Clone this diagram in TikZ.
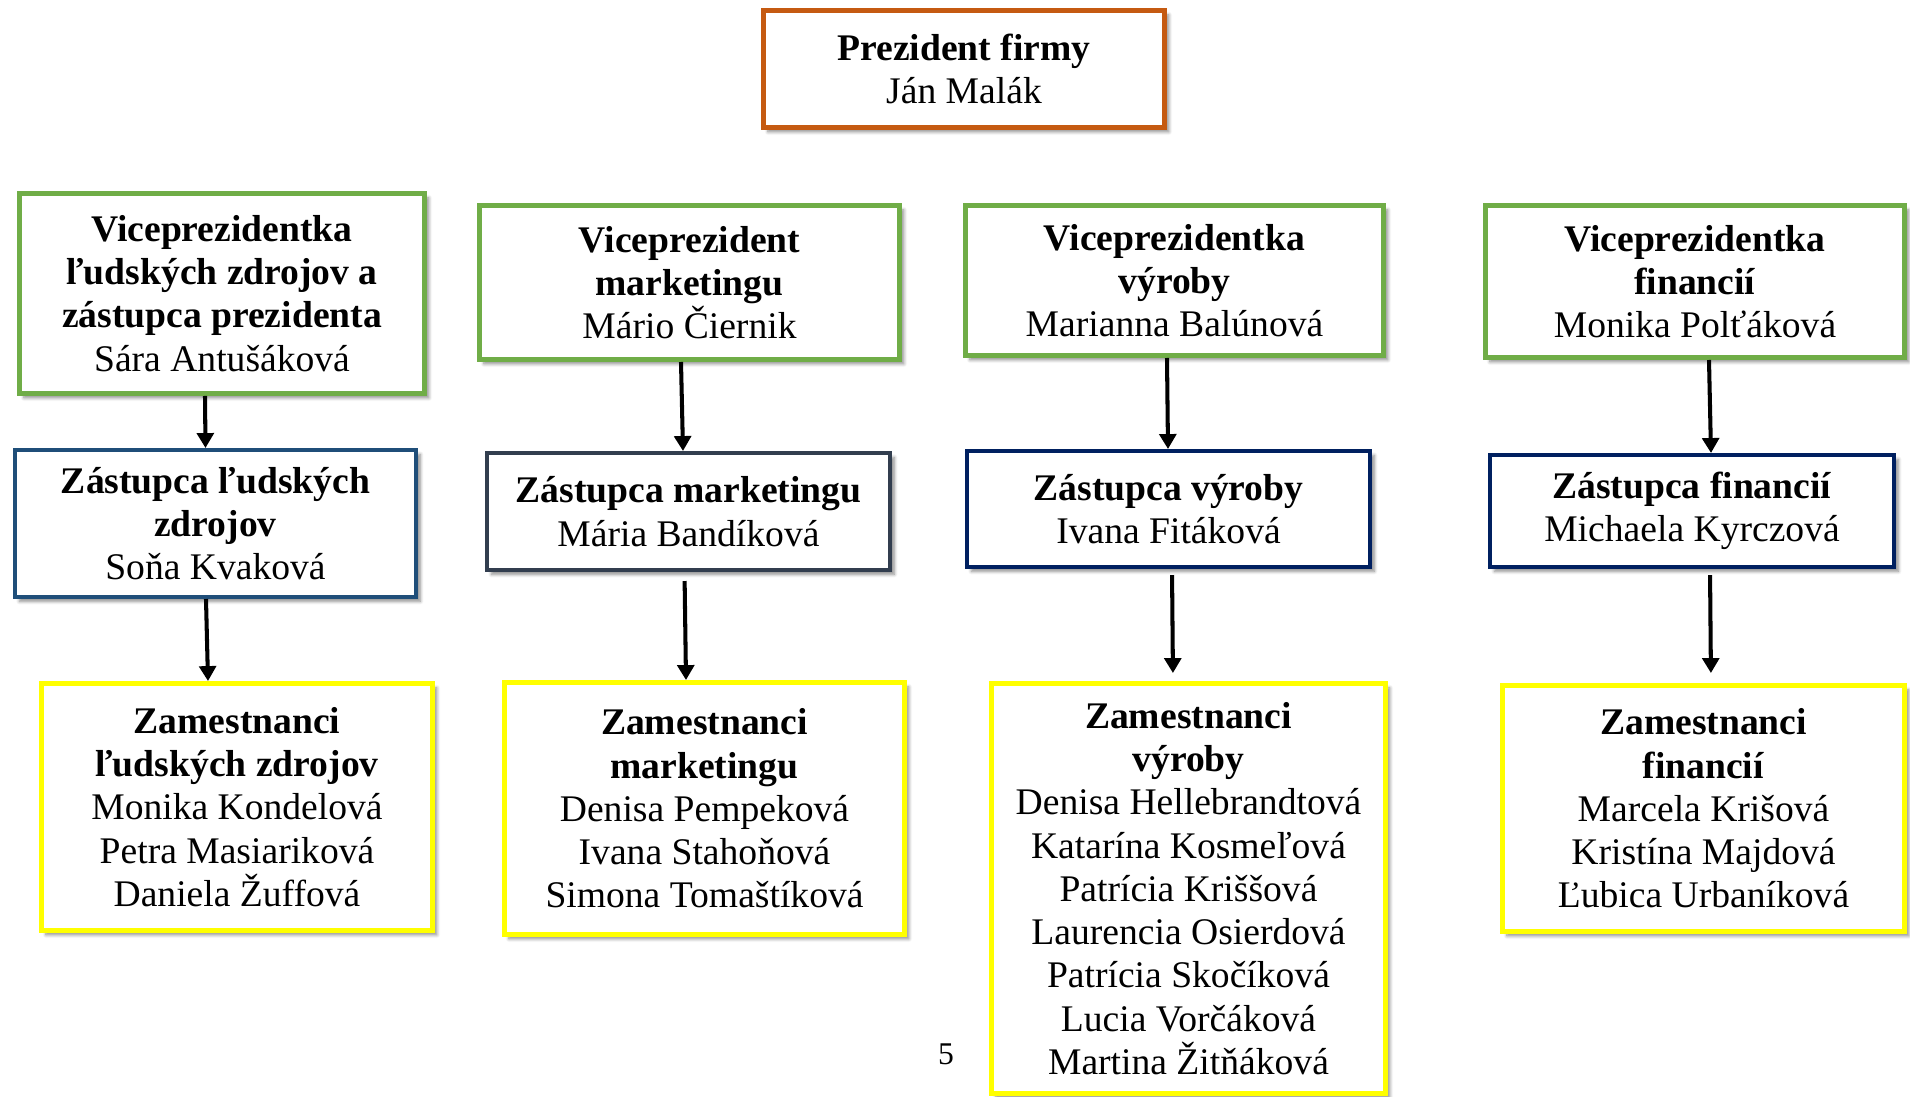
\documentclass[tikz,border=0pt]{standalone}
\usepackage{fontspec}
\setmainfont{Liberation Serif}
\usepackage{xcolor}
\usetikzlibrary{arrows.meta,shadows.blur}

\definecolor{presorange}{HTML}{C55A11}
\definecolor{vpgreen}{HTML}{70AD47}
\definecolor{zsblue}{HTML}{1F4E79}
\definecolor{zsslate}{HTML}{323E4F}
\definecolor{zsnavy}{HTML}{002060}
\definecolor{zmyellow}{HTML}{FFFF00}

\begin{document}
\begin{tikzpicture}[x=0.02cm,y=-0.02cm,
    box/.style={draw,fill=white,align=center,inner sep=0pt,
      font=\fontsize{21.4}{24.6}\selectfont,
      blur shadow={shadow xshift=2.5pt,shadow yshift=-2.5pt,shadow blur steps=6,shadow opacity=45}},
    presbox/.style={box,draw=presorange,line width=2.85pt},
    vpbox/.style={box,draw=vpgreen,line width=2.85pt},
    zsbox/.style={box,line width=2.3pt},
    zmbox/.style={box,draw=zmyellow,line width=2.85pt},
    arr/.style={-{Triangle[length=8.5pt,width=9.5pt]},line width=2.3pt,black}]
  \useasboundingbox (0,0) rectangle (1910,1096);

  \node[presbox,minimum width=8.02cm,minimum height=2.34cm] (pres) at (964,69)
    {\textbf{Prezident firmy}\\Ján Malák};

  % viceprezidenti
  \node[vpbox,minimum width=8.1cm,minimum height=4.0cm] (vp1) at (222,293.5)
    {\textbf{Viceprezidentka}\\\textbf{ľudských zdrojov a}\\\textbf{zástupca prezidenta}\\Sára Antušáková};
  \node[vpbox,minimum width=8.4cm,minimum height=3.08cm] (vp2) at (689.5,282.5)
    {\textbf{Viceprezident}\\\textbf{marketingu}\\Mário Čiernik};
  \node[vpbox,minimum width=8.36cm,minimum height=3.0cm] (vp3) at (1174.5,280.5)
    {\textbf{Viceprezidentka}\\\textbf{výroby}\\Marianna Balúnová};
  \node[vpbox,minimum width=8.38cm,minimum height=3.04cm] (vp4) at (1695,281.5)
    {\textbf{Viceprezidentka}\\\textbf{financií}\\Monika Polťáková};

  % zastupcovia
  \node[zsbox,draw=zsblue,minimum width=8.02cm,minimum height=2.94cm] (zs1) at (215.5,523.5)
    {\textbf{Zástupca ľudských}\\\textbf{zdrojov}\\Soňa Kvaková};
  \node[zsbox,draw=zsslate,minimum width=8.06cm,minimum height=2.34cm] (zs2) at (688.5,511.5)
    {\textbf{Zástupca marketingu}\\Mária Bandíková};
  \node[zsbox,draw=zsnavy,minimum width=8.06cm,minimum height=2.32cm] (zs3) at (1168.5,509)
    {\textbf{Zástupca výroby}\\Ivana Fitáková};
  \node[zsbox,draw=zsnavy,minimum width=8.08cm,minimum height=2.24cm] (zs4) at (1692,511)
    {\textbf{Zástupca financií}\\Michaela Kyrczová};

  % zamestnanci
  \node[zmbox,minimum width=7.82cm,minimum height=4.94cm] (zm1) at (237,807)
    {\textbf{Zamestnanci}\\\textbf{ľudských zdrojov}\\Monika Kondelová\\Petra Masiariková\\Daniela Žuffová};
  \node[zmbox,minimum width=8.0cm,minimum height=5.04cm] (zm2) at (704.5,808.5)
    {\textbf{Zamestnanci}\\\textbf{marketingu}\\Denisa Pempeková\\Ivana Stahoňová\\Simona Tomaštíková};
  \node[zmbox,minimum width=7.88cm,minimum height=8.2cm] (zm3) at (1188.5,888.5)
    {\textbf{Zamestnanci}\\\textbf{výroby}\\Denisa Hellebrandtová\\Katarína Kosmeľová\\Patrícia Kriššová\\Laurencia Osierdová\\Patrícia Skočíková\\Lucia Vorčáková\\Martina Žitňáková};
  \node[zmbox,minimum width=8.04cm,minimum height=4.92cm] (zm4) at (1703.5,808.5)
    {\textbf{Zamestnanci}\\\textbf{financií}\\Marcela Krišová\\Kristína Majdová\\Ľubica Urbaníková};

  \draw[arr] ([shift={(-17,0)}]vp1.south) -- ([shift={(-10,0)}]zs1.north);
  \draw[arr] ([shift={(-9.5,0)}]zs1.south) -- ([shift={(-29,0)}]zm1.north);
  \draw[arr] ([shift={(-8.5,0)}]vp2.south) -- ([shift={(-5.5,0)}]zs2.north);
  \draw[arr,shorten <=0.18cm] ([shift={(-4,0)}]zs2.south) -- ([shift={(-18.5,0)}]zm2.north);
  \draw[arr] ([shift={(-7.5,0)}]vp3.south) -- ([shift={(-0.5,0)}]zs3.north);
  \draw[arr,shorten <=0.12cm,shorten >=0.16cm] ([shift={(3.5,0)}]zs3.south) -- ([shift={(-15.5,0)}]zm3.north);
  \draw[arr] ([shift={(14,0)}]vp4.south) -- ([shift={(19,0)}]zs4.north);
  \draw[arr,shorten <=0.12cm,shorten >=0.2cm] ([shift={(18,0)}]zs4.south) -- ([shift={(7.5,0)}]zm4.north);

  \node[font=\fontsize{18}{21}\selectfont] (pagenum) at (946,1054) {5};
\end{tikzpicture}
\end{document}
